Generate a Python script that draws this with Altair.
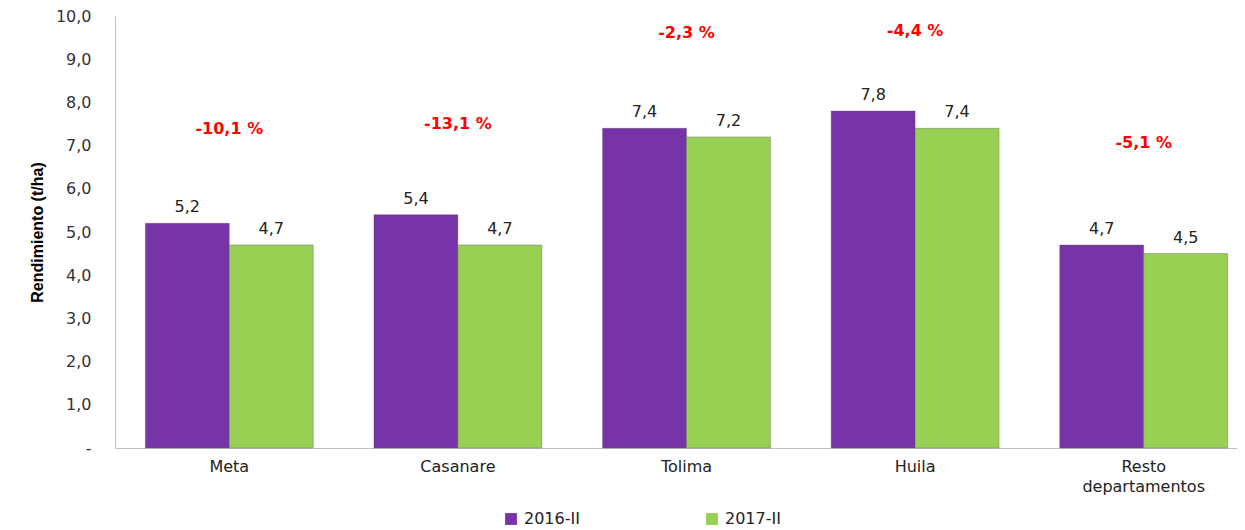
import altair as alt
import pandas as pd

categories = ["Meta", "Casanare", "Tolima", "Huila", "Resto departamentos"]
years = ["2016-II", "2017-II"]
values_2016 = [5.2, 5.4, 7.4, 7.8, 4.7]
values_2017 = [4.7, 4.7, 7.2, 7.4, 4.5]
change_labels = ["-10,1 %", "-13,1 %", "-2,3 %", "-4,4 %", "-5,1 %"]
change_label_pos = [7.38, 7.5, 9.6, 9.65, 7.06]

rows = []
for c, a, b in zip(categories, values_2016, values_2017):
    rows.append({"cat": c, "year": years[0], "v": a})
    rows.append({"cat": c, "year": years[1], "v": b})
df = pd.DataFrame(rows)
df_change = pd.DataFrame({"cat": categories, "lbl": change_labels, "pos": change_label_pos})

FONT = "DejaVu Sans"
x_enc = alt.X("cat:N", sort=categories, title=None,
              scale=alt.Scale(paddingInner=0, paddingOuter=0),
              axis=alt.Axis(labelAngle=0, labelFontSize=16, labelFont=FONT, labelColor="#222",
                            labelExpr="datum.value == 'Resto departamentos' ? ['Resto', 'departamentos'] : datum.value",
                            ticks=False, domainColor="#bfbfbf", labelPadding=10, labelLineHeight=20))
xoff = alt.XOffset("year:N", sort=years, scale=alt.Scale(paddingOuter=0.3616, paddingInner=0))
y_scale = alt.Scale(domain=[0, 10], nice=False)

bars = alt.Chart(df).mark_bar(stroke="#555555", strokeWidth=0.6, strokeOpacity=0.6).encode(
    x=x_enc,
    xOffset=xoff,
    y=alt.Y("v:Q", scale=y_scale, title="Rendimiento (t/ha)",
            axis=alt.Axis(values=[0, 1, 2, 3, 4, 5, 6, 7, 8, 9, 10], grid=False, ticks=False,
                          labelExpr="datum.value == 0 ? '-' : replace(format(datum.value, '.1f'), '.', ',')",
                          labelFontSize=16, labelFont=FONT, labelColor="#333", labelPadding=24,
                          domainColor="#bfbfbf", titleFont="Liberation Sans",
                          titleFontSize=16, titleFontWeight="bold", titleColor="#000", titlePadding=10)),
    color=alt.Color("year:N", sort=years,
                    scale=alt.Scale(domain=years, range=["#7733A8", "#98D054"]),
                    legend=alt.Legend(title=None, orient="none", legendX=388, legendY=495,
                                      direction="horizontal", columns=2, columnPadding=124,
                                      symbolType="square", symbolSize=140, symbolStrokeWidth=0,
                                      labelFontSize=16, labelFont=FONT, labelColor="#222",
                                      labelOffset=5)),
)

value_text = alt.Chart(df).transform_calculate(
    lbl="replace(format(datum.v, '.1f'), '.', ',')"
).mark_text(dy=-16, fontSize=16, font=FONT, color="#222").encode(
    x=alt.X("cat:N", sort=categories),
    xOffset=alt.XOffset("year:N", sort=years),
    y=alt.Y("v:Q", scale=y_scale),
    text="lbl:N",
)

change_text = alt.Chart(df_change).mark_text(fontSize=16, font=FONT, fontWeight="bold", color="#FF0000").encode(
    x=alt.X("cat:N", sort=categories),
    y=alt.Y("pos:Q", scale=y_scale),
    text="lbl:N",
)

chart = alt.layer(bars, value_text, change_text).properties(
    width=1143, height=432,
    autosize=alt.AutoSizeParams(type="none"),
    padding={"left": 107, "top": 8, "right": -21, "bottom": 82},
).configure(background="white").configure_view(strokeWidth=0, stroke="transparent")

chart.save("out.html", embed_options={"renderer": "svg", "actions": False})
